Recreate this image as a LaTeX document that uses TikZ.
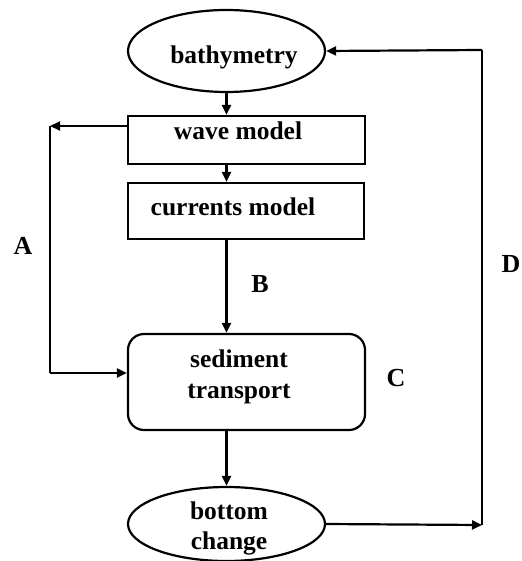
\documentclass[tikz,border=0pt]{standalone}
\usepackage{fontspec}
\setmainfont{Liberation Serif}
\usetikzlibrary{shapes.geometric,arrows.meta}
\tikzset{
  txt/.style={font=\bfseries\fontsize{25.5}{30}\selectfont,inner sep=0pt,anchor=base},
  oval/.style={draw,ellipse,line width=2.2pt,inner sep=0pt},
  boxnode/.style={draw,rectangle,line width=2.2pt,inner sep=0pt},
  lbl/.style={font=\bfseries\fontsize{26}{28}\selectfont,inner sep=0pt,anchor=base},
  conn/.style={line width=2.2pt},
  arr/.style={conn,-{Triangle[length=10pt,width=9pt]}}
}
\begin{document}
\begin{tikzpicture}[x=1pt,y=-1pt]
\useasboundingbox (0,0) rectangle (521,561);
\node[oval,minimum width=197pt,minimum height=82pt] (bathy) at (226.5,51) {};
\node[boxnode,minimum width=237pt,minimum height=48pt] (wave) at (246.5,140) {};
\node[boxnode,minimum width=236pt,minimum height=56pt] (curr) at (246,211) {};
\node[boxnode,rounded corners=16pt,minimum width=237pt,minimum height=96pt] (sed) at (246.5,382) {};
\node[oval,minimum width=197pt,minimum height=74pt] (bot) at (226.5,524) {};
\node[txt] (bathyT) at (234,64) {bathymetry};
\node[txt] (waveT) at (238,139.3) {wave model};
\node[txt] (currT) at (233,215) {currents model};
\node[txt] (sedT1) at (239,367.3) {sediment};
\node[txt] (sedT2) at (239,398.3) {transport};
\node[txt] (botT1) at (229,519) {bottom};
\node[txt] (botT2) at (229,549) {change};
\node[lbl] (A) at (23,254) {A};
\node[lbl] (B) at (260,292) {B};
\node[lbl] (C) at (396,386.7) {C};
\node[lbl] (D) at (511,272) {D};
\coordinate (a1) at (50,126);
\coordinate (a2) at (50,373);
\coordinate (d1) at (482,525);
\coordinate (d2) at (482,50);
\draw[arr] (bathy.south) -- (bathy.south |- wave.north);
\draw[arr] (bathy.south |- wave.south) -- (bathy.south |- curr.north);
\draw[arr] (bathy.south |- curr.south) -- (bathy.south |- sed.north);
\draw[arr] (bathy.south |- sed.south) -- (bot.north);
\draw[arr] (a1 -| wave.west) -- (a1);
\draw[conn] (a1) -- (a2);
\draw[arr] (a2) -- (a2 -| sed.west);
\draw[arr] (bot.east) -- (d1);
\draw[conn] (d1) -- (d2);
\draw[arr] (d2) -- (bathy.east);
\end{tikzpicture}
\end{document}
